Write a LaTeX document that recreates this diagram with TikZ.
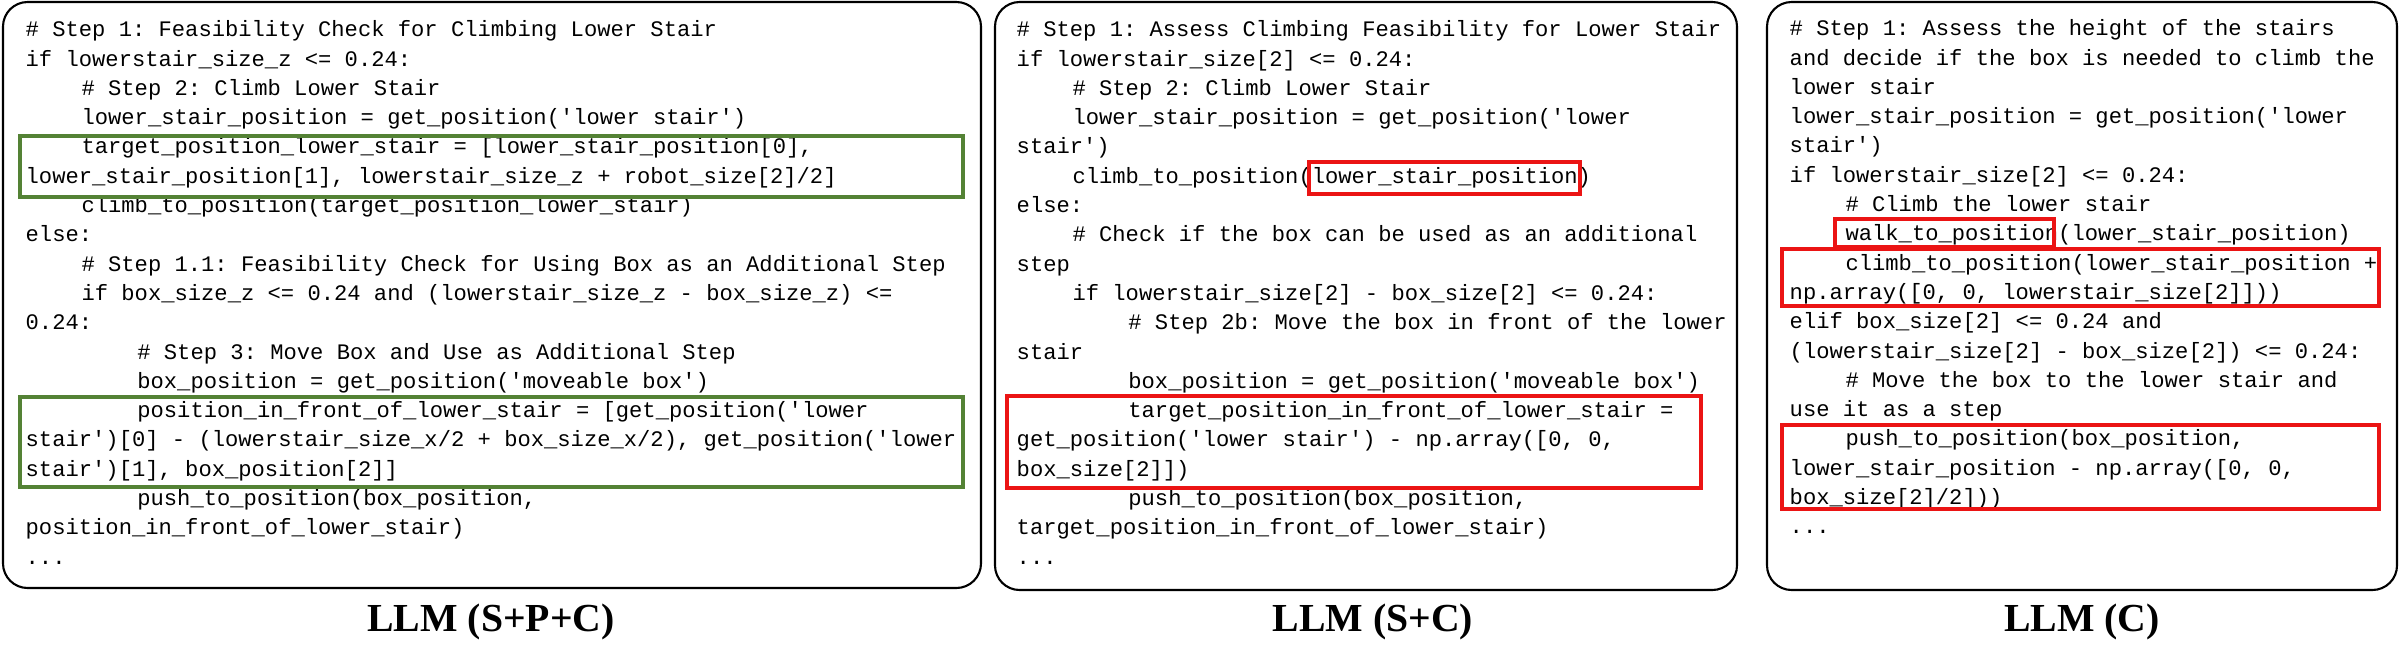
\documentclass[tikz,border=0pt]{standalone}
\usepackage{fontspec}
\setmainfont{Liberation Serif}
\setmonofont{Liberation Mono}
\newcommand{\ind}{\hspace*{2.52em}}
\definecolor{boxgreen}{RGB}{84,130,53}
\definecolor{boxred}{RGB}{235,20,20}
\begin{document}
\begin{tikzpicture}[x=0.01cm, y=-0.01cm,
    panel/.style = {draw, line width=0.6pt, rounded corners=7pt},
    code/.style = {anchor=north west, inner sep=0pt, align=left,
      font=\ttfamily\fontsize{6.3}{8.33}\selectfont},
    title/.style = {font=\bfseries\fontsize{11.3}{13}\selectfont},
    good/.style = {draw=boxgreen, line width=1.1pt},
    bad/.style = {draw=boxred, line width=1.1pt}]
    \useasboundingbox (0,0) rectangle (2400,669);

    % Panels
    \draw[panel] (3,2) rectangle (981,588);
    \draw[panel] (995,2) rectangle (1737,590);
    \draw[panel] (1767,2) rectangle (2397,590);

    % Code of the first panel
    \node[code] (code1) at (25,20) {\# Step 1: Feasibility Check for Climbing Lower Stair\\
if lowerstair\_size\_z <= 0.24:\\
\ind\# Step 2: Climb Lower Stair\\
\ind lower\_stair\_position = get\_position('lower stair')\\
\ind target\_position\_lower\_stair = [lower\_stair\_position[0],\\
lower\_stair\_position[1], lowerstair\_size\_z + robot\_size[2]/2]\\
\ind climb\_to\_position(target\_position\_lower\_stair)\\
else:\\
\ind\# Step 1.1: Feasibility Check for Using Box as an Additional Step\\
\ind if box\_size\_z <= 0.24 and (lowerstair\_size\_z - box\_size\_z) <=\\
0.24:\\
\ind\ind\# Step 3: Move Box and Use as Additional Step\\
\ind\ind box\_position = get\_position('moveable box')\\
\ind\ind position\_in\_front\_of\_lower\_stair = [get\_position('lower\\
stair')[0] - (lowerstair\_size\_x/2 + box\_size\_x/2), get\_position('lower\\
stair')[1], box\_position[2]]\\
\ind\ind push\_to\_position(box\_position,\\
position\_in\_front\_of\_lower\_stair)\\
...};

    % Code of the second panel
    \node[code] (code2) at (1016,20) {\# Step 1: Assess Climbing Feasibility for Lower Stair\\
if lowerstair\_size[2] <= 0.24:\\
\ind\# Step 2: Climb Lower Stair\\
\ind lower\_stair\_position = get\_position('lower\\
stair')\\
\ind climb\_to\_position(lower\_stair\_position)\\
else:\\
\ind\# Check if the box can be used as an additional\\
step\\
\ind if lowerstair\_size[2] - box\_size[2] <= 0.24:\\
\ind\ind\# Step 2b: Move the box in front of the lower\\
stair\\
\ind\ind box\_position = get\_position('moveable box')\\
\ind\ind target\_position\_in\_front\_of\_lower\_stair =\\
get\_position('lower stair') - np.array([0, 0,\\
box\_size[2]])\\
\ind\ind push\_to\_position(box\_position,\\
target\_position\_in\_front\_of\_lower\_stair)\\
...};

    % Code of the third panel
    \node[code] (code3) at (1789,19) {\# Step 1: Assess the height of the stairs\\
and decide if the box is needed to climb the\\
lower stair\\
lower\_stair\_position = get\_position('lower\\
stair')\\
if lowerstair\_size[2] <= 0.24:\\
\ind\# Climb the lower stair\\
\ind walk\_to\_position(lower\_stair\_position)\\
\ind climb\_to\_position(lower\_stair\_position +\\
np.array([0, 0, lowerstair\_size[2]]))\\
elif box\_size[2] <= 0.24 and\\
(lowerstair\_size[2] - box\_size[2]) <= 0.24:\\
\ind\# Move the box to the lower stair and\\
use it as a step\\
\ind push\_to\_position(box\_position,\\
lower\_stair\_position - np.array([0, 0,\\
box\_size[2]/2]))\\
...};

    % Highlights
    \draw[good] (20,136) rectangle (963,197);
    \draw[good] (20,397) rectangle (963,487);
    \draw[bad] (1309,162) rectangle (1580,194);
    \draw[bad] (1007,396) rectangle (1701,488);
    \draw[bad] (1835,219) rectangle (2054,247);
    \draw[bad] (1782,249) rectangle (2379,306);
    \draw[bad] (1782,425) rectangle (2379,509);

    % Titles
    \node[title] (title1) at (491,622) {LLM (S+P+C)};
    \node[title] (title2) at (1373,622) {LLM (S+C)};
    \node[title] (title3) at (2082,622) {LLM (C)};
\end{tikzpicture}
\end{document}
